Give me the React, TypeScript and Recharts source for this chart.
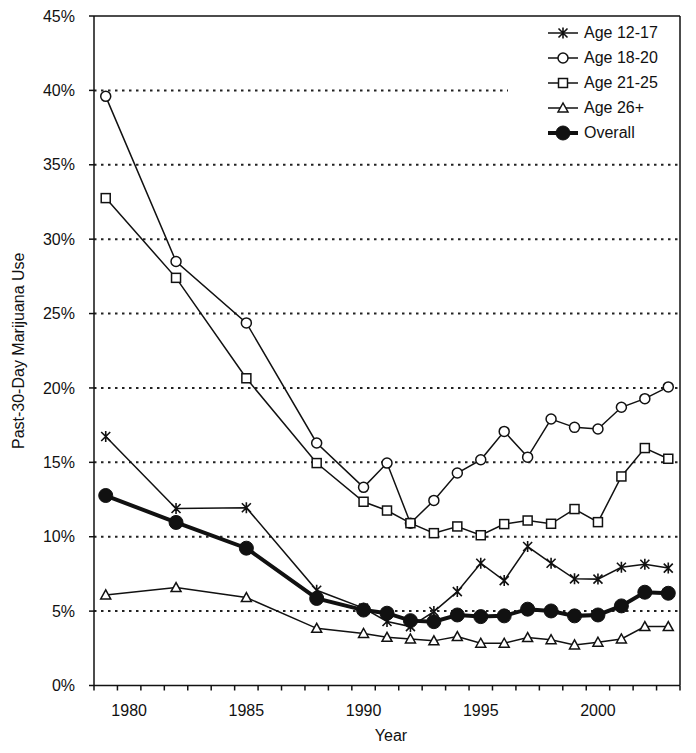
import React from 'react';
import {
  LineChart,
  Line,
  XAxis,
  YAxis,
  CartesianGrid,
  ReferenceLine,
  Legend,
} from 'recharts';

const FONT = '"Liberation Sans", Arial, Helvetica, sans-serif';
const INK = '#111';

// survey years (gaps before 1990 are joined by the lines)
const YEARS = [1979, 1982, 1985, 1988, 1990, 1991, 1992, 1993, 1994, 1995, 1996, 1997, 1998, 1999, 2000, 2001, 2002, 2003];

const AGE_12_17 = [16.74, 11.9, 11.95, 6.4, 5.2, 4.3, 3.96, 4.97, 6.31, 8.22, 7.05, 9.34, 8.22, 7.17, 7.15, 7.95, 8.15, 7.89];
const AGE_18_20 = [39.6, 28.5, 24.37, 16.3, 13.32, 14.95, 10.91, 12.44, 14.28, 15.17, 17.08, 15.35, 17.91, 17.35, 17.24, 18.7, 19.28, 20.07];
const AGE_21_25 = [32.76, 27.4, 20.65, 14.95, 12.35, 11.76, 10.91, 10.24, 10.69, 10.1, 10.85, 11.09, 10.87, 11.86, 10.98, 14.05, 15.96, 15.24];
const AGE_26_PLUS = [6.09, 6.58, 5.91, 3.84, 3.5, 3.24, 3.13, 3.0, 3.29, 2.84, 2.84, 3.22, 3.08, 2.73, 2.91, 3.13, 3.96, 3.96];
const OVERALL = [12.77, 10.96, 9.23, 5.85, 5.07, 4.86, 4.36, 4.29, 4.74, 4.63, 4.68, 5.13, 5.01, 4.68, 4.74, 5.35, 6.27, 6.2];

const LABEL_YEARS = [1980, 1985, 1990, 1995, 2000];
const Y_TICKS = [0, 5, 10, 15, 20, 25, 30, 35, 40, 45];
const GRID_VALUES = [5, 10, 15, 20, 25, 30, 35, 40];

const FIRST_YEAR = 1979;
const LAST_YEAR = 2003;
// tick marks sit between the years, like an Excel category axis
const BOUNDARIES = Array.from({ length: LAST_YEAR - FIRST_YEAR + 2 }, (_, i) => FIRST_YEAR - 0.5 + i);

const data = YEARS.map((year, i) => ({
  year,
  a1217: AGE_12_17[i],
  a1820: AGE_18_20[i],
  a2125: AGE_21_25[i],
  a26: AGE_26_PLUS[i],
  overall: OVERALL[i],
}));

type Shape = 'star' | 'circle' | 'square' | 'triangle' | 'dot';

function Marker({ shape, cx, cy }: { shape: Shape; cx: number; cy: number }) {
  if (cx == null || cy == null) return null;
  switch (shape) {
    case 'star':
      return (
        <path
          d={`M${cx - 4.5},${cy - 4.5}L${cx + 4.5},${cy + 4.5}M${cx + 4.5},${cy - 4.5}L${cx - 4.5},${cy + 4.5}M${cx},${cy - 5.5}L${cx},${cy + 5.5}`}
          stroke={INK}
          strokeWidth={1.6}
          fill="none"
        />
      );
    case 'circle':
      return <circle cx={cx} cy={cy} r={5} fill="#fff" stroke={INK} strokeWidth={1.5} />;
    case 'square':
      return <rect x={cx - 4.5} y={cy - 4.5} width={9} height={9} fill="#fff" stroke={INK} strokeWidth={1.5} />;
    case 'triangle':
      return (
        <polygon
          points={`${cx},${cy - 5} ${cx - 5},${cy + 4} ${cx + 5},${cy + 4}`}
          fill="#fff"
          stroke={INK}
          strokeWidth={1.5}
        />
      );
    default:
      return <circle cx={cx} cy={cy} r={7} fill={INK} stroke={INK} strokeWidth={1} />;
  }
}

const SERIES: { key: string; name: string; shape: Shape; width: number }[] = [
  { key: 'a1217', name: 'Age 12-17', shape: 'star', width: 1.5 },
  { key: 'a1820', name: 'Age 18-20', shape: 'circle', width: 1.5 },
  { key: 'a2125', name: 'Age 21-25', shape: 'square', width: 1.5 },
  { key: 'a26', name: 'Age 26+', shape: 'triangle', width: 1.5 },
  { key: 'overall', name: 'Overall', shape: 'dot', width: 4 },
];

function XTick(props: any) {
  const { x, y, payload } = props;
  const v = payload.value;
  if (LABEL_YEARS.includes(v)) {
    return (
      <text x={x} y={y + 30} textAnchor="middle" fill={INK} fontSize={16} fontFamily={FONT}>
        {v}
      </text>
    );
  }
  return <line x1={x} x2={x} y1={y} y2={y + 5} stroke={INK} strokeWidth={1.5} />;
}

function LegendBox() {
  return (
    <div style={{ background: '#fff', width: 170, height: 130, paddingTop: 2, boxSizing: 'border-box' }}>
      {SERIES.map((s) => (
        <div key={s.key} style={{ display: 'flex', alignItems: 'center', height: 25 }}>
          <svg width={76} height={20} style={{ display: 'block' }}>
            <line x1={40} x2={70} y1={10} y2={10} stroke={INK} strokeWidth={s.width} />
            <Marker shape={s.shape} cx={55} cy={10} />
          </svg>
          <span style={{ fontFamily: FONT, fontSize: 16, color: INK }}>{s.name}</span>
        </div>
      ))}
    </div>
  );
}

export default function App() {
  return (
    <div style={{ position: 'absolute', left: 0, top: 0, background: '#fff' }}>
      <LineChart width={696} height={753} data={data} margin={{ top: 16, right: 16, bottom: 27.5, left: 0 }}>
        <CartesianGrid
          vertical={false}
          horizontalValues={GRID_VALUES}
          stroke="#222"
          strokeWidth={2}
          strokeDasharray="2.5 4.5"
        />
        <XAxis
          dataKey="year"
          type="number"
          domain={[FIRST_YEAR - 0.5, LAST_YEAR + 0.5]}
          ticks={[...BOUNDARIES, ...LABEL_YEARS]}
          interval={0}
          tickSize={0}
          tickMargin={0}
          tickLine={false}
          height={40}
          axisLine={{ stroke: INK, strokeWidth: 1.5 }}
          tick={(p: any) => <XTick {...p} />}
          label={{ value: 'Year', position: 'bottom', offset: 4, dx: 4, fill: INK, fontSize: 16, fontFamily: FONT }}
        />
        <YAxis
          domain={[0, 45]}
          ticks={Y_TICKS}
          interval={0}
          width={94}
          tickSize={5}
          tickMargin={14}
          tickFormatter={(v: number) => `${v}%`}
          tick={{ fill: INK, fontSize: 16, fontFamily: FONT }}
          tickLine={{ stroke: INK, strokeWidth: 1.5 }}
          axisLine={{ stroke: INK, strokeWidth: 1.5 }}
          label={{
            value: 'Past-30-Day Marijuana Use',
            angle: -90,
            position: 'insideLeft',
            offset: 18,
            fill: INK,
            fontSize: 16,
            fontFamily: FONT,
            style: { textAnchor: 'middle' },
          }}
        />
        <ReferenceLine y={45} stroke={INK} strokeWidth={1.5} />
        <ReferenceLine x={LAST_YEAR + 0.5} stroke={INK} strokeWidth={1.5} />
        {SERIES.map((s) => (
          <Line
            key={s.key}
            dataKey={s.key}
            name={s.name}
            type="linear"
            stroke={INK}
            strokeWidth={s.width}
            isAnimationActive={false}
            dot={(p: any) => <Marker key={`${s.key}-${p.index}`} shape={s.shape} cx={p.cx} cy={p.cy} />}
            activeDot={false}
          />
        ))}
        <Legend
          layout="horizontal"
          verticalAlign="middle"
          align="center"
          wrapperStyle={{ left: 508, top: 18, width: 170, height: 130 }}
          content={() => <LegendBox />}
        />
      </LineChart>
    </div>
  );
}
